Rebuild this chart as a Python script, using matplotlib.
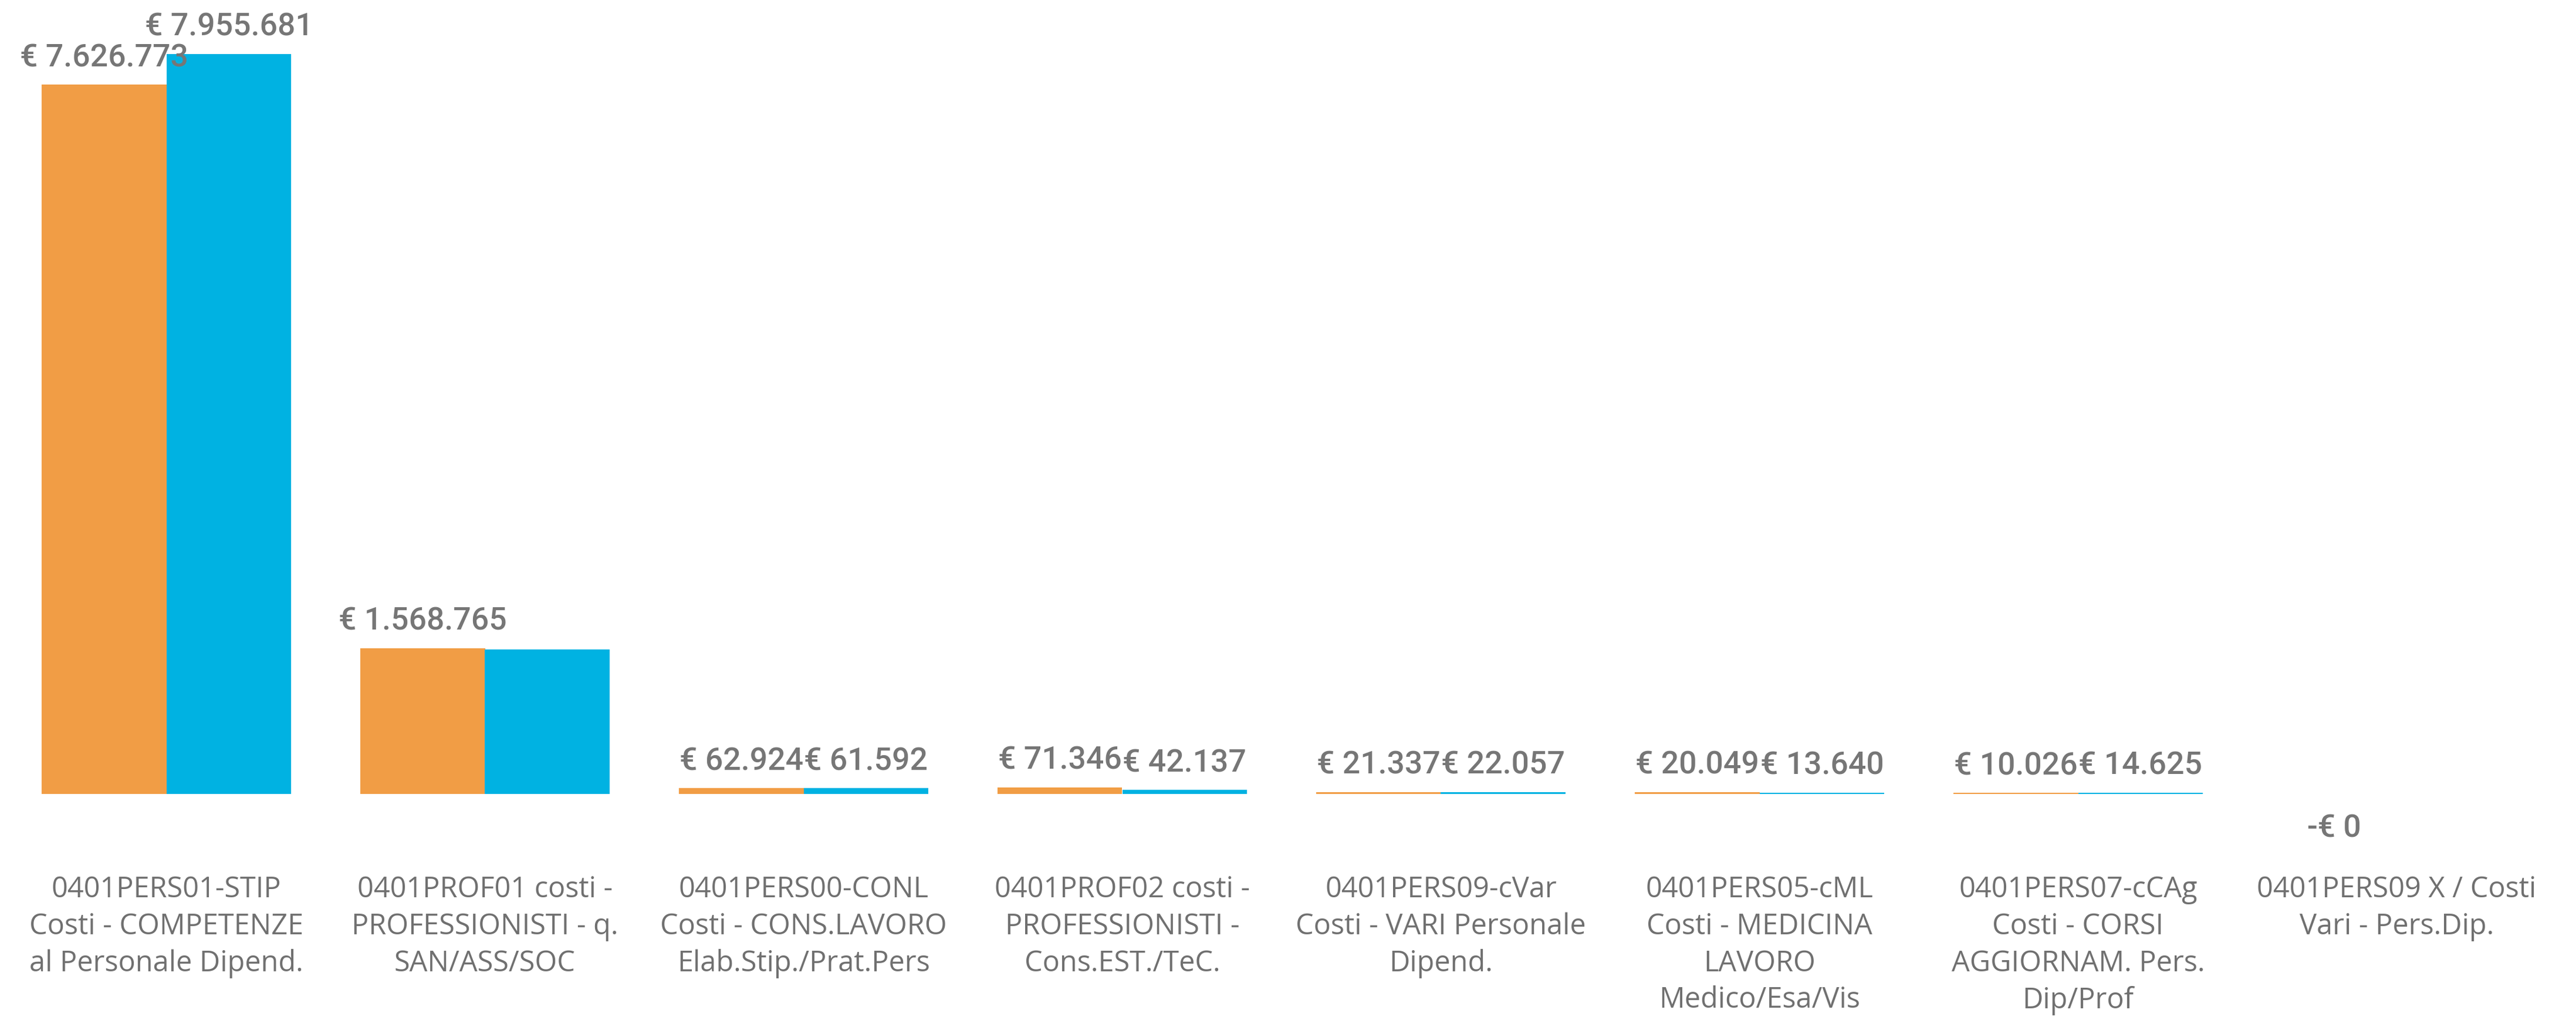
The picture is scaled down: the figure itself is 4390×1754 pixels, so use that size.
import numpy as np
import matplotlib
matplotlib.use("Agg")
import matplotlib.pyplot as plt

categories = [
    "0401PERS01-STIP\nCosti - COMPETENZE\nal Personale Dipend.",
    "0401PROF01 costi -\nPROFESSIONISTI - q.\nSAN/ASS/SOC",
    "0401PERS00-CONL\nCosti - CONS.LAVORO\nElab.Stip./Prat.Pers",
    "0401PROF02 costi -\nPROFESSIONISTI -\nCons.EST./TeC.",
    "0401PERS09-cVar\nCosti - VARI Personale\nDipend.",
    "0401PERS05-cML\nCosti - MEDICINA\nLAVORO\nMedico/Esa/Vis",
    "0401PERS07-cCAg\nCosti - CORSI\nAGGIORNAM. Pers.\nDip/Prof",
    "0401PERS09 X / Costi\nVari - Pers.Dip.",
]
series_orange = [7626773, 1568765, 62924, 71346, 21337, 20049, 10026, -0.0]
series_blue = [7955681, 1553000, 61592, 42137, 22057, 13640, 14625, np.nan]
hidden_blue_labels = [1]  # label hidden by overlap in the original

ORANGE = "#F19D45"
BLUE = "#00B2E2"
LABEL_GRAY = "#767676"
TICK_GRAY = "#707070"

W, H, DPI = 4390, 1754, 100
fig = plt.figure(figsize=(W / DPI, H / DPI), dpi=DPI, facecolor="white")
left = 12 / W
right = (12 + 8 * 543) / W
bottom = (H - 1352) / H
top = (H - 92) / H
ax = fig.add_axes([left, bottom, right - left, top - bottom])
ax.set_facecolor("white")

x = np.arange(len(categories))
bw = 0.392
ax.bar(x - bw / 2, series_orange, width=bw, color=ORANGE, linewidth=0)
ax.bar(x + bw / 2, series_blue, width=bw, color=BLUE, linewidth=0)

ax.set_xlim(-0.5, len(categories) - 0.5)
ax.set_ylim(0, max(np.nanmax(series_blue), max(series_orange)))


def fmt(v):
    neg = np.signbit(v)
    s = f"{abs(v):,.0f}".replace(",", ".")
    return ("-€ " if neg else "€ ") + s


val_font = dict(family=["Roboto", "DejaVu Sans"], fontsize=38.5, fontweight="medium",
                color=LABEL_GRAY)

for i, v in enumerate(series_orange):
    if np.isnan(v):
        continue
    if np.signbit(v):
        ax.annotate(fmt(v), (x[i] - bw / 2, 0), xytext=(0, -34), textcoords="offset pixels",
                    ha="center", va="top", annotation_clip=False, **val_font)
    else:
        ax.annotate(fmt(v), (x[i] - bw / 2, v), xytext=(0, 31), textcoords="offset pixels",
                    ha="center", va="baseline", annotation_clip=False, **val_font)

for i, v in enumerate(series_blue):
    if np.isnan(v) or i in hidden_blue_labels:
        continue
    ax.annotate(fmt(v), (x[i] + bw / 2, v), xytext=(0, 31), textcoords="offset pixels",
                ha="center", va="baseline", annotation_clip=False, **val_font)

ax.set_xticks(x)
ax.set_xticklabels(categories, family=["Open Sans", "DejaVu Sans"], fontsize=35,
                   color=TICK_GRAY, linespacing=1.35, va="top")
ax.tick_params(axis="x", length=0, pad=100)
ax.set_yticks([])
for s in ax.spines.values():
    s.set_visible(False)

fig.savefig("out.png", dpi=DPI, facecolor="white")
